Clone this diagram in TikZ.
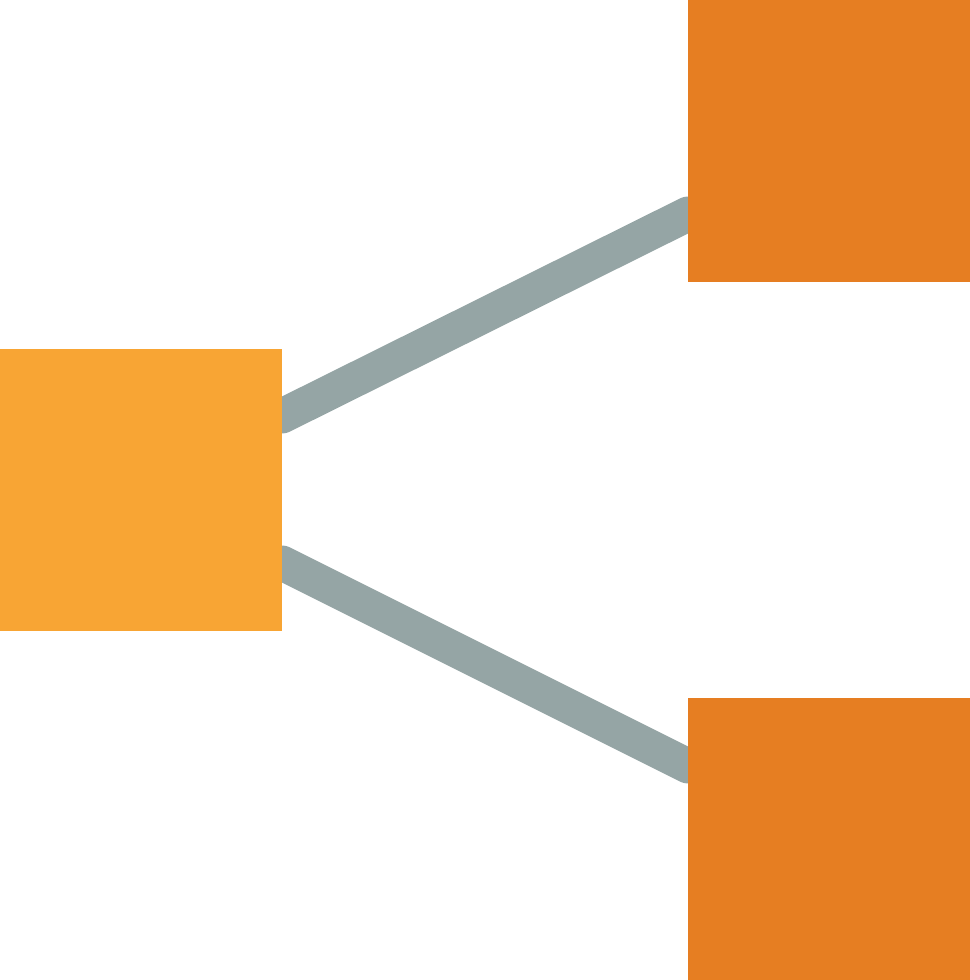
\documentclass[tikz,border=0pt]{standalone}
\usepackage{xcolor}
\usetikzlibrary{positioning, backgrounds}
\definecolor{laranjaclaro}{HTML}{F8A534}
\definecolor{laranja}{HTML}{E67E22}
\definecolor{cinza}{HTML}{95A5A5}

\begin{document}
\begin{tikzpicture}[
	caixa/.style={rectangle, minimum size=2.82cm, inner sep=0pt, outer sep=0pt},
	ligacao/.style={line width=0.35cm, draw=cinza, line cap=round}]
			\useasboundingbox (0,0) rectangle (9.7,9.8);
			
			% caixas
			\node[caixa, fill=laranjaclaro, anchor=south west] (raiz) at (0,3.49) {};
			\node[caixa, fill=laranja, anchor=north east] (cima) at (9.7,9.8) {};
			\node[caixa, fill=laranja, anchor=south east] (baixo) at (9.7,0) {};
			
			% ligacoes
			\begin{scope}[on background layer]
				\draw[ligacao] ([yshift=0.74cm]raiz.east)--([yshift=-0.73cm]cima.west);
				\draw[ligacao] ([yshift=-0.73cm]raiz.east)--([yshift=0.73cm]baixo.west);
			\end{scope}
		\end{tikzpicture}
\end{document}
